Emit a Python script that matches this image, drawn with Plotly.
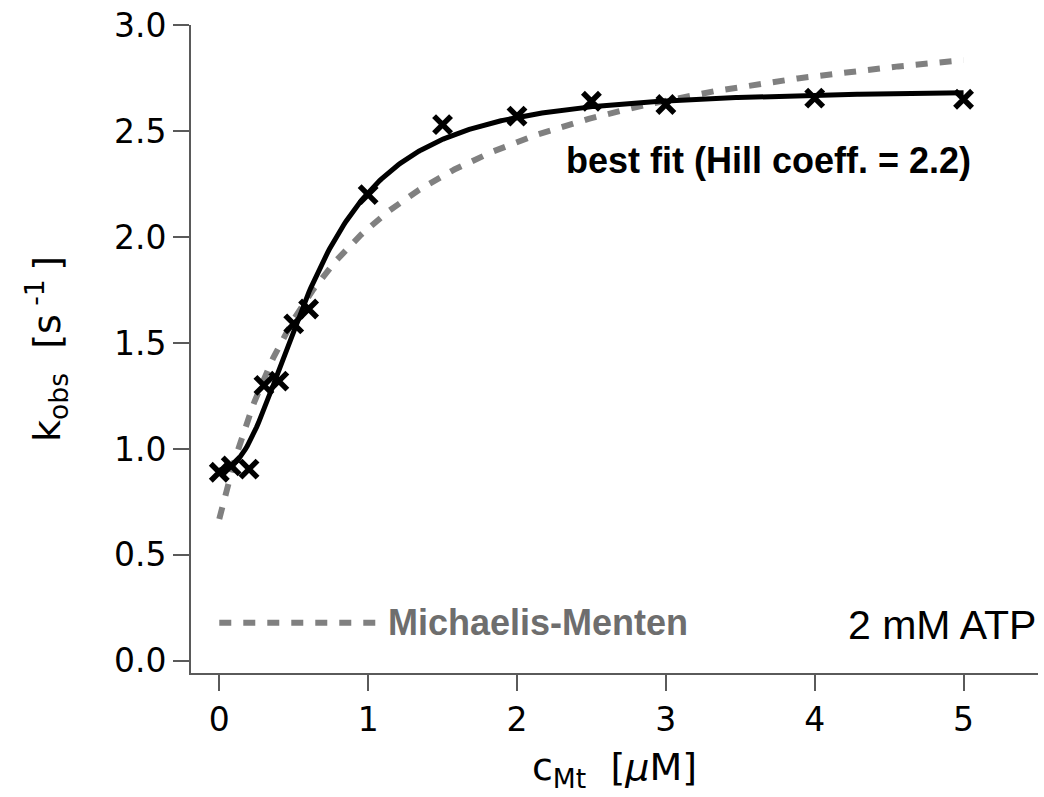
import numpy as np
import plotly.graph_objects as go

# Measured rate constants vs microtubule concentration (2 mM ATP)
c_mt = [0.0, 0.08, 0.2, 0.3, 0.4, 0.5, 0.6, 1.0, 1.5, 2.0, 2.5, 3.0, 4.0, 5.0]
k_obs = [0.89, 0.92, 0.905, 1.30, 1.32, 1.59, 1.66, 2.20, 2.53, 2.57, 2.64, 2.625, 2.655, 2.65]

# Hill fit parameters
hill_k0 = 0.90
hill_amp = 1.80
hill_K = 0.64
hill_n = 2.2

# Michaelis-Menten fit parameters
mm_k0 = 0.67
mm_amp = 2.53
mm_K = 0.845

x_ticks = [0, 1, 2, 3, 4, 5]
y_ticks = [0.0, 0.5, 1.0, 1.5, 2.0, 2.5, 3.0]

xs = np.linspace(0, 5, 400)
hill_curve = hill_k0 + hill_amp * xs**hill_n / (hill_K**hill_n + xs**hill_n)
mm_curve = mm_k0 + mm_amp * xs / (mm_K + xs)

AXIS_COLOR = "#5a5a5a"
DASH_COLOR = "#808080"

fig = go.Figure()

fig.add_trace(go.Scatter(
    x=xs, y=mm_curve, mode="lines",
    line=dict(color=DASH_COLOR, width=6, dash="12px,12px"),
    hoverinfo="skip", showlegend=False,
))
fig.add_trace(go.Scatter(
    x=xs, y=hill_curve, mode="lines",
    line=dict(color="black", width=5),
    hoverinfo="skip", showlegend=False,
))
fig.add_trace(go.Scatter(
    x=c_mt, y=k_obs, mode="markers",
    marker=dict(symbol="x-thin", size=17, line=dict(color="black", width=5.5)),
    showlegend=False,
))

# Legend sample for the Michaelis-Menten curve
fig.add_trace(go.Scatter(
    x=[0.0, 1.05], y=[0.18, 0.18], mode="lines",
    line=dict(color=DASH_COLOR, width=6, dash="12px,12px"),
    hoverinfo="skip", showlegend=False,
))

fig.add_annotation(
    x=5.06, y=2.36, xref="x", yref="y", text="<b>best fit (Hill coeff. = 2.2)</b>",
    showarrow=False, xanchor="right", yanchor="middle",
    font=dict(family="Liberation Sans, Arial, sans-serif", size=36, color="black"),
)
fig.add_annotation(
    x=1.12, y=0.18, xref="x", yref="y", text="<b>Michaelis-Menten</b>",
    showarrow=False, xanchor="left", yanchor="middle",
    font=dict(family="Liberation Sans, Arial, sans-serif", size=36, color="#6e6e6e"),
)
fig.add_annotation(
    x=5.5, y=0.17, xref="x", yref="y", text="2 mM ATP",
    showarrow=False, xanchor="right", yanchor="middle",
    font=dict(family="Liberation Sans, Arial, sans-serif", size=41, color="black"),
)

tick_font = dict(family="DejaVu Sans, sans-serif", size=33, color="black")
title_font = dict(family="DejaVu Sans, sans-serif", size=38, color="black")

fig.update_xaxes(
    range=[-0.19, 5.5], tickvals=x_ticks, ticktext=[str(v) for v in x_ticks],
    showline=True, linecolor=AXIS_COLOR, linewidth=2,
    ticks="outside", ticklen=16, tickwidth=2, tickcolor=AXIS_COLOR,
    showgrid=False, zeroline=False, tickfont=tick_font,
    title=dict(text="c<sub>Mt</sub>  [<i>μ</i>M]", font=title_font, standoff=16),
)
fig.update_yaxes(
    range=[-0.057, 3.0], tickvals=y_ticks, ticktext=[f"{v:.1f}" for v in y_ticks],
    showline=True, linecolor=AXIS_COLOR, linewidth=2,
    ticks="outside", ticklen=16, tickwidth=2, tickcolor=AXIS_COLOR,
    showgrid=False, zeroline=False, tickfont=tick_font,
    title=dict(text="k<sub>obs</sub>  [s<sup> -1 </sup>]", font=title_font, standoff=42),
)

fig.update_layout(
    width=1044, height=797,
    margin=dict(l=191, r=6, t=25, b=124),
    plot_bgcolor="white", paper_bgcolor="white",
    showlegend=False,
)

fig.write_html("out.html")
